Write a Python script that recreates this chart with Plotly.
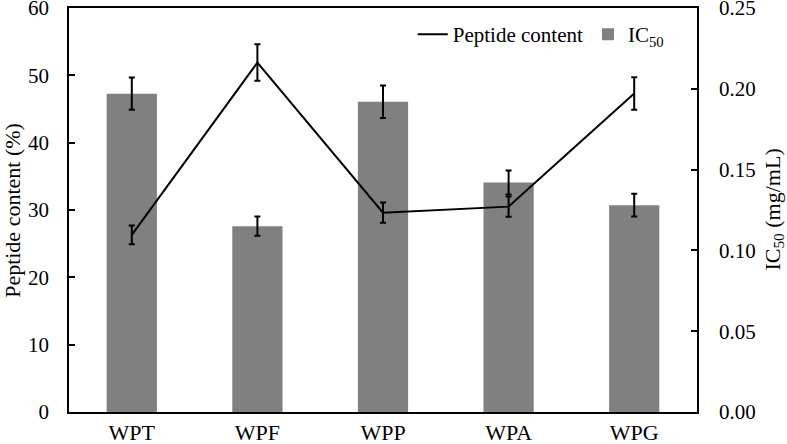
import plotly.graph_objects as go

categories = ["WPT", "WPF", "WPP", "WPA", "WPG"]
ic50 = [0.197, 0.115, 0.192, 0.142, 0.128]
ic50_err = [0.010, 0.006, 0.010, 0.0074, 0.007]
peptide = [26.3, 51.9, 29.6, 30.5, 47.3]
peptide_err = [1.4, 2.7, 1.5, 1.5, 2.4]

FONT = "Liberation Serif"

fig = go.Figure()

# bars on primary axis (drawn on right side) so the line is drawn above them
fig.add_trace(go.Bar(
    x=categories, y=ic50, name="IC<sub>50</sub>",
    marker=dict(color="#808080", line=dict(width=0)),
    error_y=dict(type="data", array=ic50_err, color="black", thickness=2, width=3),
    yaxis="y", legendrank=2,
))
fig.add_trace(go.Scatter(
    x=categories, y=peptide, name="Peptide content", mode="lines",
    line=dict(color="black", width=2),
    error_y=dict(type="data", array=peptide_err, color="black", thickness=2, width=3),
    yaxis="y2", legendrank=1,
))

fig.update_layout(
    width=787, height=444,
    margin=dict(l=69, r=90, t=8, b=32),
    paper_bgcolor="white", plot_bgcolor="white",
    font=dict(family=FONT, size=21, color="black"),
    bargap=0.6,
    showlegend=True,
    legend=dict(orientation="h", x=0.955, xanchor="right", y=0.985, yanchor="top",
                bgcolor="rgba(0,0,0,0)", font=dict(family=FONT, size=21), itemwidth=30,
                traceorder="normal"),
    xaxis=dict(showline=True, linecolor="black", linewidth=1.5, mirror=True,
               ticks="", tickfont=dict(family=FONT, size=22), showgrid=False,
               automargin=False),
    yaxis=dict(side="right", range=[0, 0.2500001], tickvals=[0, 0.05, 0.1, 0.15, 0.2, 0.25],
               tickformat=".2f", tickfont=dict(family=FONT, size=21),
               showline=True, linecolor="black", linewidth=1.5,
               ticks="inside", ticklen=6, tickcolor="black", tickwidth=1.5,
               showgrid=False, zeroline=False, ticklabelstandoff=16,
               ticklabeloverflow="allow", automargin=False),
    yaxis2=dict(side="left", overlaying="y", range=[0, 60], dtick=10,
                tickfont=dict(family=FONT, size=21),
                showline=True, linecolor="black", linewidth=1.5,
                ticks="inside", ticklen=6, tickcolor="black", tickwidth=1.5,
                showgrid=False, zeroline=False, ticklabelstandoff=14,
                ticklabeloverflow="allow", automargin=False),
    annotations=[
        dict(text="Peptide content (%)", xref="paper", yref="paper",
             x=-0.091, y=0.5, textangle=-90, showarrow=False,
             font=dict(family=FONT, size=22), xanchor="center", yanchor="middle"),
        dict(text="IC<sub>50</sub> (mg/mL)", xref="paper", yref="paper",
             x=1.122, y=0.5, textangle=-90, showarrow=False,
             font=dict(family=FONT, size=22), xanchor="center", yanchor="middle"),
    ],
)

fig.write_html("out.html", config={"displayModeBar": False},
               post_script="document.body.style.margin='0';document.body.style.padding='0';")
